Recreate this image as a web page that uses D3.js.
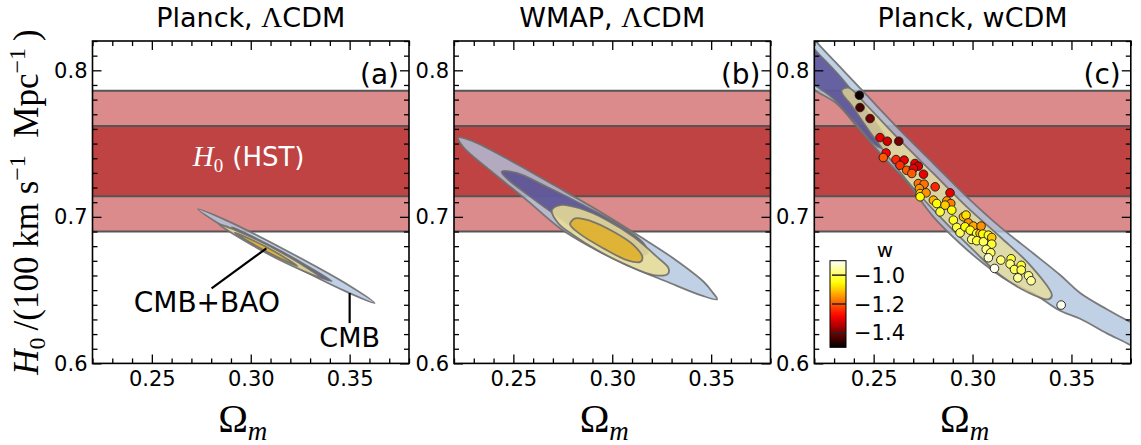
<!DOCTYPE html>
<html><head><meta charset="utf-8">
<script src="https://cdn.jsdelivr.net/npm/d3@7"></script>
<style>body{margin:0;background:#fff}svg{display:block}</style>
</head><body><svg id="c" width="1141" height="445"></svg>
<script>
// ---------- data ----------
const panelTitles = ["Planck, \u039BCDM", "WMAP, \u039BCDM", "Planck, wCDM"];
const panelTags = ["(a)", "(b)", "(c)"];
const xDomain = [0.22, 0.38];
const yDomain = [0.60, 0.82];
const xMajorTicks = [0.25, 0.30, 0.35];
const xTickLabels = ["0.25", "0.30", "0.35"];
const yMajorTicks = [0.6, 0.7, 0.8];
const yTickLabels = ["0.6", "0.7", "0.8"];
const hst1sigma = [0.714, 0.762];
const hst2sigma = [0.690, 0.786];

// contours [Omega_m, h]
const aCmbOuter = [[0.2733,0.7053],[0.2882,0.6973],[0.3191,0.6762],[0.3493,0.6535],[0.3626,0.6412],[0.3477,0.6493],[0.3168,0.6702],[0.2866,0.6930]];
const aCmbInner = [[0.2904,0.6930],[0.3030,0.6851],[0.3157,0.6763],[0.3283,0.6667],[0.3409,0.6562],[0.3273,0.6633],[0.3147,0.6729],[0.3020,0.6821]];
const aBaoOuter = [[0.2839,0.6950],[0.3026,0.6847],[0.3191,0.6729],[0.3359,0.6582],[0.3175,0.6687],[0.3010,0.6805]];
const aBaoInner = [[0.2919,0.6892],[0.3084,0.6791],[0.3237,0.6664],[0.3075,0.6766]];

const bCmbOuter = [[0.2222,0.7541],[0.2281,0.7523],[0.2467,0.7398],[0.2720,0.7205],[0.2939,0.7034],[0.3142,0.6864],[0.3310,0.6716],[0.3462,0.6557],[0.3505,0.6489],[0.3530,0.6437],[0.3446,0.6466],[0.3277,0.6557],[0.3074,0.6671],[0.2889,0.6796],[0.2737,0.6921],[0.2568,0.7114],[0.2382,0.7318],[0.2247,0.7477]];
const bCmbInner = [[0.2441,0.7307],[0.2517,0.7300],[0.2669,0.7205],[0.2838,0.7091],[0.3007,0.6966],[0.3158,0.6819],[0.3176,0.6751],[0.3074,0.6739],[0.2889,0.6853],[0.2703,0.7023],[0.2568,0.7155],[0.2467,0.7262]];
const bBaoOuter = [[0.2695,0.7046],[0.2737,0.7080],[0.2838,0.7057],[0.2973,0.6978],[0.3108,0.6864],[0.3226,0.6727],[0.3285,0.6648],[0.3280,0.6609],[0.3209,0.6603],[0.3074,0.6671],[0.2923,0.6773],[0.2804,0.6875],[0.2728,0.6955]];
const bBaoInner = [[0.2787,0.6950],[0.2813,0.6989],[0.2889,0.6973],[0.3007,0.6898],[0.3108,0.6807],[0.3153,0.6723],[0.3142,0.6693],[0.3074,0.6705],[0.2956,0.6785],[0.2838,0.6882]];

const cCmbOuter = [[0.2128,0.8341],[0.2204,0.8205],[0.2330,0.8023],[0.2465,0.7830],[0.2633,0.7591],[0.2802,0.7364],[0.2971,0.7137],[0.3139,0.6932],[0.3308,0.6750],[0.3443,0.6603],[0.3544,0.6480],[0.3679,0.6369],[0.3797,0.6282],[0.3898,0.6216],
  [0.3898,0.6035],[0.3797,0.6125],[0.3679,0.6205],[0.3544,0.6305],[0.3443,0.6359],[0.3308,0.6478],[0.3173,0.6569],[0.3055,0.6682],[0.2937,0.6818],[0.2802,0.7000],[0.2667,0.7239],[0.2549,0.7409],[0.2431,0.7591],[0.2313,0.7773],[0.2204,0.7864],[0.2128,0.7955]];
const cCmbInner = [[0.2128,0.8227],[0.2229,0.8102],[0.2347,0.7932],[0.2465,0.7727],[0.2558,0.7546],[0.2574,0.7477],[0.2524,0.7477],[0.2397,0.7659],[0.2296,0.7807],[0.2204,0.7898],[0.2128,0.7977]];
const cCombined = [[0.2338,0.7864],[0.2372,0.7882],[0.2465,0.7761],[0.2633,0.7523],[0.2802,0.7296],[0.2971,0.7068],[0.3139,0.6864],[0.3291,0.6671],[0.3401,0.6466],[0.3384,0.6437],[0.3274,0.6489],[0.3139,0.6603],[0.3004,0.6773],[0.2836,0.7000],[0.2667,0.7250],[0.2499,0.7546],[0.2381,0.7773],[0.2343,0.7836]];

// samples in panel (c)
const sampleOmega = [0.2428,0.2431,0.2482,0.2532,0.2569,0.2627,0.2563,0.2549,0.2613,0.2654,0.2633,0.2667,0.2709,0.2726,0.2701,0.2752,0.2693,0.2726,0.2755,0.2731,0.2735,0.2765,0.2735,0.2811,0.2886,0.2802,0.2819,0.2870,0.2890,0.2861,0.2836,0.2895,0.2903,0.2920,0.2937,0.2954,0.2967,0.2979,0.2962,0.3004,0.2988,0.3021,0.2996,0.3038,0.3043,0.3052,0.3021,0.3055,0.3080,0.3097,0.3097,0.3069,0.3092,0.3080,0.3111,0.3143,0.3195,0.3190,0.3212,0.3246,0.3246,0.3229,0.3283,0.3296,0.3448];
const sampleH = [0.7830,0.7746,0.7671,0.7541,0.7516,0.7516,0.7436,0.7405,0.7391,0.7387,0.7352,0.7318,0.7364,0.7346,0.7330,0.7291,0.7296,0.7227,0.7223,0.7193,0.7159,0.7164,0.7137,0.7205,0.7164,0.7114,0.7091,0.7109,0.7091,0.7080,0.7034,0.7046,0.6978,0.6928,0.6891,0.7000,0.7012,0.6959,0.6932,0.6937,0.6909,0.6887,0.6846,0.6887,0.6937,0.6882,0.6837,0.6830,0.6875,0.6859,0.6814,0.6778,0.6755,0.6721,0.6648,0.6705,0.6714,0.6678,0.6641,0.6669,0.6637,0.6584,0.6598,0.6564,0.6398];
const sampleW = [-1.49,-1.44,-1.40,-1.30,-1.32,-1.40,-1.28,-1.20,-1.25,-1.30,-1.24,-1.20,-1.30,-1.32,-1.30,-1.30,-1.20,-1.18,-1.18,-1.15,-1.10,-1.15,-1.05,-1.25,-1.30,-1.12,-1.05,-1.15,-1.17,-1.10,-1.02,-1.05,-1.03,-1.02,-1.00,-1.12,-1.08,-1.15,-1.05,-1.13,-1.03,-1.02,-0.98,-1.12,-1.15,-1.05,-1.02,-1.00,-1.03,-1.10,-1.02,-0.97,-1.00,-0.93,-0.91,-0.98,-1.02,-0.98,-1.00,-1.02,-1.00,-0.96,-0.97,-0.96,-0.91];
const wDomain = [-1.5, -0.9];
const wTicks = [-1.0, -1.2, -1.4];
const wTickLabels = ["\u22121.0", "\u22121.2", "\u22121.4"];

// annotations panel (a)
const annBaoLine = [[0.3079,0.6785],[0.2802,0.6512]];
const annBaoText = [0.2778, 0.6352];
const annCmbLine = [[0.3500,0.6480],[0.3500,0.6275]];
const annCmbText = [0.3500, 0.6114];

// ---------- layout ----------
const svg = d3.select("#c");
const panelLeft = [92.5, 454, 814.3];
const pw = 316.5, pTop = 41, ph = 322.4;
const sans = "DejaVu Sans", serif = "Liberation Serif";

const colBlue = "#b0c4de", colPurple = "#483d8b", colKhaki = "#ebdf96", colGold = "#dfae25";
const bandLight = "#db8b8b", bandDark = "#c04343", bandLine = "#555";

function hot(t){
  const c = v => Math.max(0, Math.min(1, v));
  const r = c(t/0.365), g = c((t-0.365)/0.381), b = c((t-0.746)/0.254);
  return d3.rgb(r*255, g*255, b*255).toString();
}
const wNorm = d3.scaleLinear().domain(wDomain).range([0,1]).clamp(true);

const contourSets = [
  [[aCmbOuter,colBlue,0.8],[aCmbInner,colPurple,0.75],[aBaoOuter,colKhaki,0.85],[aBaoInner,colGold,0.85]],
  [[bCmbOuter,colBlue,0.8],[bCmbInner,colPurple,0.75],[bBaoOuter,colKhaki,0.85],[bBaoInner,colGold,0.85]],
  [[cCmbOuter,colBlue,0.8],[cCmbInner,colPurple,0.75],[cCombined,colKhaki,0.75]]
];

const defs = svg.append("defs");

panelLeft.forEach((L, i) => {
  const x = d3.scaleLinear().domain(xDomain).range([L, L + pw]);
  const y = d3.scaleLinear().domain(yDomain).range([pTop + ph, pTop]);
  defs.append("clipPath").attr("id", "clip" + i).append("rect")
    .attr("x", L).attr("y", pTop).attr("width", pw).attr("height", ph);
  const g = svg.append("g").attr("clip-path", `url(#clip${i})`);

  g.append("rect").attr("x", L).attr("width", pw)
    .attr("y", y(hst2sigma[1])).attr("height", y(hst2sigma[0]) - y(hst2sigma[1])).attr("fill", bandLight);
  g.append("rect").attr("x", L).attr("width", pw)
    .attr("y", y(hst1sigma[1])).attr("height", y(hst1sigma[0]) - y(hst1sigma[1])).attr("fill", bandDark);
  [...hst2sigma, ...hst1sigma].forEach(v => {
    g.append("line").attr("x1", L).attr("x2", L + pw).attr("y1", y(v)).attr("y2", y(v))
      .attr("stroke", bandLine).attr("stroke-width", 2);
  });

  const line = d3.line().x(d => x(d[0])).y(d => y(d[1])).curve(d3.curveCatmullRomClosed.alpha(0.5));
  contourSets[i].forEach(([pts, col, op]) => {
    g.append("path").attr("d", line(pts)).attr("fill", col).attr("fill-opacity", op)
      .attr("stroke", "#6e6e6e").attr("stroke-width", 1.8).attr("stroke-opacity", 0.9);
  });

  if (i === 2) {
    sampleOmega.forEach((om, k) => {
      g.append("circle").attr("cx", x(om)).attr("cy", y(sampleH[k])).attr("r", 4.3)
        .attr("fill", hot(wNorm(sampleW[k]))).attr("stroke", "#1a1a1a").attr("stroke-width", 0.9);
    });
  }

  const minorX = d3.range(0.22, 0.3801, 0.01).filter(v => !xMajorTicks.some(m => Math.abs(m - v) < 1e-6));
  const minorY = d3.range(0.60, 0.8201, 0.01).filter(v => !yMajorTicks.some(m => Math.abs(m - v) < 1e-6));
  const fmtX = v => xTickLabels[xMajorTicks.indexOf(v)];
  const fmtY = v => yTickLabels[yMajorTicks.indexOf(v)];

  const addAxis = (axis, tr) => {
    const a = svg.append("g").attr("transform", tr).call(axis);
    a.select(".domain").remove();
    a.selectAll("line").attr("stroke", "#000").attr("stroke-width", 1.3);
    a.selectAll("text").attr("font-family", sans).attr("font-size", 21).attr("fill", "#000");
    return a;
  };
  addAxis(d3.axisBottom(x).tickValues(xMajorTicks).tickSize(-9).tickPadding(8).tickFormat(fmtX), `translate(0,${pTop + ph})`);
  addAxis(d3.axisBottom(x).tickValues(minorX).tickSize(-5).tickFormat(""), `translate(0,${pTop + ph})`);
  addAxis(d3.axisTop(x).tickValues(xMajorTicks).tickSize(-9).tickFormat(""), `translate(0,${pTop})`);
  addAxis(d3.axisTop(x).tickValues(minorX).tickSize(-5).tickFormat(""), `translate(0,${pTop})`);
  addAxis(d3.axisLeft(y).tickValues(yMajorTicks).tickSize(-9).tickPadding(5).tickFormat(fmtY), `translate(${L},0)`);
  addAxis(d3.axisLeft(y).tickValues(minorY).tickSize(-5).tickFormat(""), `translate(${L},0)`);
  addAxis(d3.axisRight(y).tickValues(yMajorTicks).tickSize(-9).tickFormat(""), `translate(${L + pw},0)`);
  addAxis(d3.axisRight(y).tickValues(minorY).tickSize(-5).tickFormat(""), `translate(${L + pw},0)`);

  svg.append("rect").attr("x", L).attr("y", pTop).attr("width", pw).attr("height", ph)
    .attr("fill", "none").attr("stroke", "#000").attr("stroke-width", 1.6);

  const t = svg.append("text").attr("x", L + pw / 2).attr("y", 27).attr("text-anchor", "middle")
    .attr("font-family", sans).attr("font-size", 27).attr("fill", "#000");
  const parts = panelTitles[i].split("\u039B");
  if (parts.length === 2) {
    t.append("tspan").text(parts[0]);
    t.append("tspan").attr("font-family", serif).attr("font-size", 29).text("\u039B");
    t.append("tspan").text(parts[1]);
  } else t.text(panelTitles[i]);

  svg.append("text").attr("x", L + pw - 10).attr("y", 84).attr("text-anchor", "end")
    .attr("font-family", sans).attr("font-size", 28).text(panelTags[i]);

  const xl = svg.append("text").attr("x", L + pw / 2 - 8).attr("y", 432).attr("text-anchor", "middle")
    .attr("font-family", serif).attr("font-size", 40);
  xl.append("tspan").text("\u03A9");
  xl.append("tspan").attr("font-style", "italic").attr("font-size", 27).attr("dy", 8).text("m");

  if (i === 0) {
    const h = svg.append("text").attr("x", x(0.2707)).attr("y", y(0.7345)).attr("fill", "#fff")
      .attr("font-family", serif).attr("font-size", 29);
    h.append("tspan").attr("font-style", "italic").text("H");
    h.append("tspan").attr("font-size", 19).attr("dy", 6).text("0");
    h.append("tspan").attr("font-family", sans).attr("font-size", 26).attr("dy", -6).attr("dx", 9).text("(HST)");

    const l2 = d3.line().x(d => x(d[0])).y(d => y(d[1]));
    svg.append("path").attr("d", l2(annBaoLine)).attr("stroke", "#000").attr("stroke-width", 2.2).attr("fill", "none");
    svg.append("path").attr("d", l2(annCmbLine)).attr("stroke", "#000").attr("stroke-width", 2.2).attr("fill", "none");
    svg.append("text").attr("x", x(annBaoText[0])).attr("y", y(annBaoText[1])).attr("text-anchor", "middle")
      .attr("font-family", sans).attr("font-size", 28).text("CMB+BAO");
    svg.append("text").attr("x", x(annCmbText[0])).attr("y", y(annCmbText[1])).attr("text-anchor", "middle")
      .attr("font-family", sans).attr("font-size", 27).text("CMB");
  }

  if (i === 2) {
    const cb = d3.scaleLinear().domain(wDomain).range([347.3, 260.7]);
    const cbx = 830, cbw = 16;
    const grad = defs.append("linearGradient").attr("id", "hotgrad")
      .attr("x1", 0).attr("y1", 1).attr("x2", 0).attr("y2", 0);
    d3.range(0, 1.0001, 0.05).forEach(t => grad.append("stop").attr("offset", t).attr("stop-color", hot(t)));
    svg.append("rect").attr("x", cbx).attr("y", cb(wDomain[1])).attr("width", cbw)
      .attr("height", cb(wDomain[0]) - cb(wDomain[1])).attr("fill", "url(#hotgrad)")
      .attr("stroke", "#000").attr("stroke-width", 1);
    wTicks.forEach((v, k) => {
      svg.append("line").attr("x1", cbx + 2).attr("x2", cbx + cbw).attr("y1", cb(v)).attr("y2", cb(v))
        .attr("stroke", "#222").attr("stroke-width", 1.5);
      svg.append("text").attr("x", cbx + cbw + 8).attr("y", cb(v)).attr("dy", "0.36em")
        .attr("font-family", sans).attr("font-size", 21).text(wTickLabels[k]);
    });
    svg.append("text").attr("x", 885).attr("y", 257).attr("text-anchor", "middle")
      .attr("font-family", sans).attr("font-size", 20).text("w");
  }
});

const yl = svg.append("text").attr("transform", "translate(38,202) rotate(-90)").attr("text-anchor", "middle")
  .attr("font-family", serif).attr("font-size", 35);
yl.append("tspan").attr("font-style", "italic").text("H");
yl.append("tspan").attr("font-size", 24).attr("dy", 7).text("0");
yl.append("tspan").attr("dy", -7).text("\u2009/(100 km s");
yl.append("tspan").attr("font-size", 24).attr("dy", -13).text("\u22121");
yl.append("tspan").attr("dy", 13).text("\u2002Mpc");
yl.append("tspan").attr("font-size", 24).attr("dy", -13).text("\u22121");
yl.append("tspan").attr("dy", 13).text("\u2009)");
</script></body></html>
